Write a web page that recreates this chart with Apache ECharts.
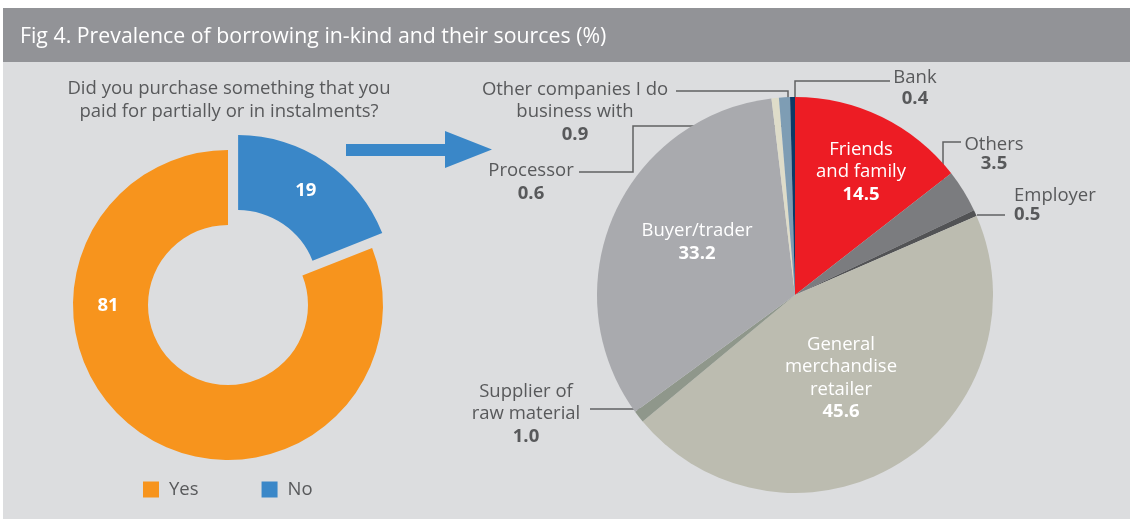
<!DOCTYPE html>
<html>
<head>
<meta charset="utf-8">
<title>Fig 4</title>
<script src="https://cdn.jsdelivr.net/npm/echarts@6/dist/echarts.min.js"></script>
<style>
  html, body { margin: 0; padding: 0; background: #fff; }
  #chart { width: 1130px; height: 519px; }
</style>
</head>
<body>
<div id="chart"></div>
<script>
// left donut: did you purchase on credit
const purchaseNames = ['No', 'Yes']
const purchaseValues = [19, 81]
const legendOrder = ['Yes', 'No']

// right pie: sources, clockwise from 12 o'clock
const sourceNames = [
  'Friends\nand family',
  'Others',
  'Employer',
  'General\nmerchandise\nretailer',
  'Supplier of\nraw material',
  'Buyer/trader',
  'Processor',
  'Other companies I do\nbusiness with',
  'Bank'
]
const sourceValues = [14.5, 3.5, 0.5, 45.6, 1.0, 33.2, 0.6, 0.9, 0.4]

const FONT = 'Open Sans'
const FS = 18.5
const GREY_TEXT = '#58595b'
const purchaseColors = ['#3a87c8', '#f7941d']
const sourceColors = ['#ed1c24', '#7b7c7f', '#525355', '#bcbcb0', '#8f978b', '#a9aaae', '#dedcc9', '#7e9db4', '#0e3a66']

// where each label sits (layout only)
const purchaseLabelPos = [{ x: 294, y: 183 }, { x: 108, y: 306 }]
const sourceLabelPos = [
  { x: 861, y: 172, align: 'center', inside: true },
  { x: 994, y: 154, align: 'center', lh: 19, line: [[943, 198], [943, 142], [961, 142]] },
  { x: 1014, y: 205, align: 'left', lh: 19, line: [[977, 215], [1005, 215]] },
  { x: 841, y: 378, align: 'center', inside: true },
  { x: 526, y: 414, align: 'center', line: [[643, 409], [590, 409]] },
  { x: 697, y: 242, align: 'center', inside: true },
  { x: 531, y: 182, align: 'center', line: [[782, 126], [633, 126], [633, 172], [579, 172]] },
  { x: 575, y: 112, align: 'center', line: [[788, 103], [788, 91], [676, 91]] },
  { x: 915, y: 88, align: 'center', lh: 21, line: [[795, 103], [795, 81], [890, 81]] }
]

const chart = echarts.init(document.getElementById('chart'), null, { renderer: 'canvas' })

const purchaseData = purchaseNames.map((name, i) => ({
  name,
  value: purchaseValues[i],
  selected: i === 0,
  itemStyle: { color: purchaseColors[i] }
}))

const sourceData = sourceNames.map((name, i) => {
  const pos = sourceLabelPos[i]
  const color = pos.inside ? '#fff' : GREY_TEXT
  const lh = pos.lh || 22.5
  return {
    name,
    value: sourceValues[i],
    itemStyle: { color: sourceColors[i] },
    label: {
      color,
      rich: {
        n: { fontSize: FS, lineHeight: lh, color, fontFamily: FONT },
        v: { fontSize: FS, lineHeight: lh, fontWeight: 'bold', color, fontFamily: FONT }
      }
    },
    labelLine: { show: !pos.inside }
  }
})

function sourceFormatter(p) {
  const lines = p.name.split('\n').map(s => '{n|' + s + '}')
  return lines.join('\n') + '\n{v|' + p.value.toFixed(1) + '}'
}

chart.setOption({
  backgroundColor: '#ffffff',
  animation: false,
  textStyle: { fontFamily: FONT },
  graphic: [
    { type: 'rect', z: -10, shape: { x: 3, y: 62, width: 1127, height: 457 }, style: { fill: '#dcdddf' } },
    { type: 'rect', z: -10, shape: { x: 3, y: 8, width: 1127, height: 54 }, style: { fill: '#929397' } },
    {
      type: 'text', x: 20, y: 37,
      style: { text: 'Fig 4. Prevalence of borrowing in-kind and their sources (%)', fill: '#fff', font: '21.3px "Open Sans"', verticalAlign: 'middle' }
    },
    {
      type: 'text', x: 229, y: 100,
      style: {
        text: 'Did you purchase something that you\npaid for partially or in instalments?',
        fill: GREY_TEXT, font: FS + 'px "Open Sans"', lineHeight: 23, align: 'center', verticalAlign: 'middle'
      }
    },
    {
      type: 'polygon',
      shape: { points: [[346, 144], [445, 144], [445, 131], [492, 149.5], [445, 168], [445, 156], [346, 156]] },
      style: { fill: '#3a87c8' }
    }
  ],
  legend: {
    data: legendOrder,
    left: 143,
    top: 480,
    padding: 0,
    icon: 'rect',
    itemWidth: 16,
    itemHeight: 16,
    itemGap: 63,
    selectedMode: false,
    textStyle: { fontSize: FS, lineHeight: 16, color: GREY_TEXT, fontFamily: FONT, padding: [0, 0, 0, 5] }
  },
  series: [
    {
      type: 'pie',
      name: 'purchase',
      center: [228, 305],
      radius: [80, 155],
      startAngle: 90,
      clockwise: true,
      selectedMode: 'single',
      selectedOffset: 18,
      silent: true,
      data: purchaseData,
      label: {
        show: true,
        position: 'inside',
        color: '#fff',
        fontSize: FS,
        fontWeight: 'bold',
        fontFamily: FONT,
        formatter: p => String(p.value)
      },
      labelLine: { show: false },
      labelLayout: p => ({
        x: purchaseLabelPos[p.dataIndex].x,
        y: purchaseLabelPos[p.dataIndex].y,
        align: 'center',
        verticalAlign: 'middle'
      }),
      select: { itemStyle: { borderWidth: 0 } },
      emphasis: { disabled: true }
    },
    {
      type: 'pie',
      name: 'sources',
      center: [795, 295],
      radius: 198,
      startAngle: 90,
      clockwise: true,
      avoidLabelOverlap: false,
      silent: true,
      data: sourceData,
      label: {
        show: true,
        position: 'outside',
        fontFamily: FONT,
        formatter: sourceFormatter
      },
      labelLine: { length: 10, length2: 10, lineStyle: { color: '#606163', width: 1.5 } },
      labelLayout: p => {
        const pos = sourceLabelPos[p.dataIndex]
        const out = { x: pos.x, y: pos.y, align: pos.align, verticalAlign: 'middle' }
        if (pos.line) out.labelLinePoints = pos.line
        return out
      },
      emphasis: { disabled: true }
    }
  ]
})
</script>
</body>
</html>
